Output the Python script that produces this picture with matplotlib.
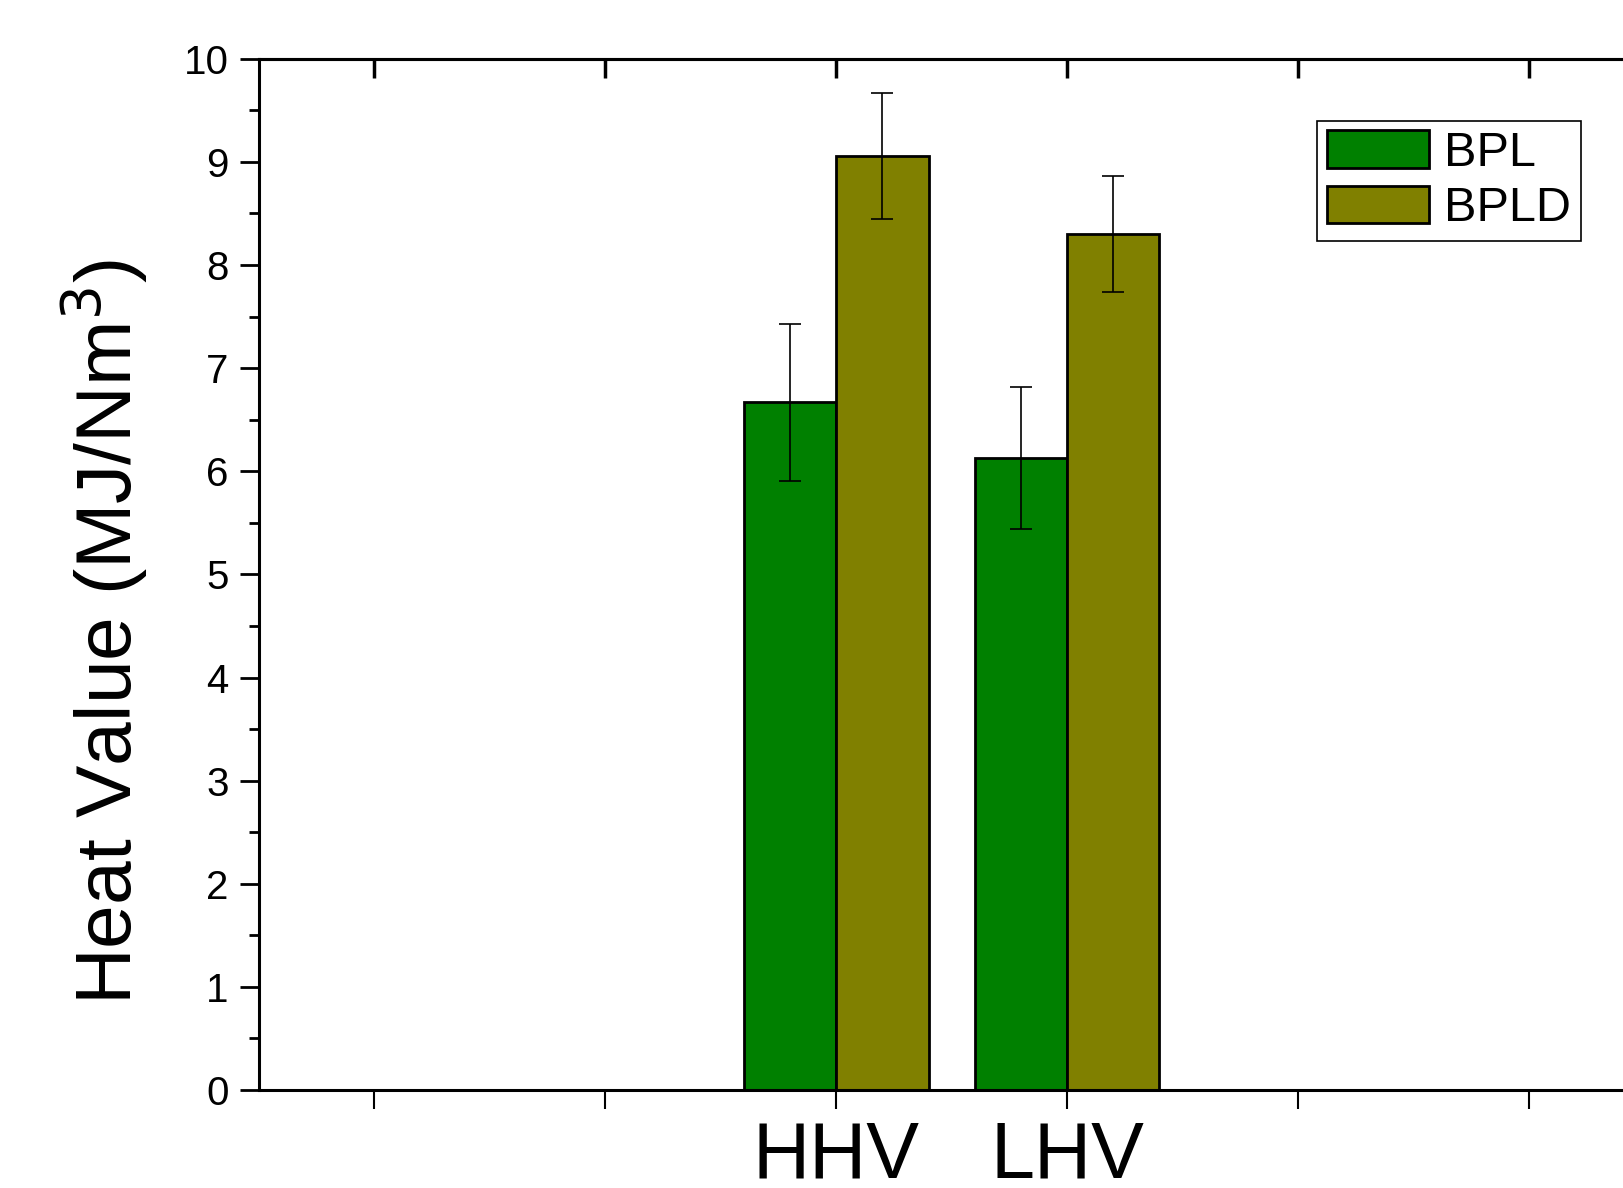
import matplotlib.pyplot as plt
import numpy as np

plt.rcParams['font.family'] = ['Liberation Sans', 'DejaVu Sans']

# data
categories = ['HHV', 'LHV']
cat_pos = [3, 4]
series = ['BPL', 'BPLD']
bpl = [6.67, 6.13]
bpl_err = [0.76, 0.69]
bpld = [9.06, 8.30]
bpld_err = [0.61, 0.56]
colors = ['#008000', '#808000']

fig = plt.figure(figsize=(16.24, 11.88), dpi=100)
ax = fig.add_axes([0.1595, 0.0825, 0.853, 0.868])

w = 0.4
x = np.array(cat_pos, dtype=float)
ax.bar(x - w/2, bpl, w, color=colors[0], edgecolor='black', linewidth=2, label=series[0])
ax.bar(x + w/2, bpld, w, color=colors[1], edgecolor='black', linewidth=2, label=series[1])
ax.errorbar(x - w/2, bpl, yerr=bpl_err, fmt='none', ecolor='black', elinewidth=1.2, capsize=8, capthick=1.2)
ax.errorbar(x + w/2, bpld, yerr=bpld_err, fmt='none', ecolor='black', elinewidth=1.2, capsize=8, capthick=1.2)

ax.set_xlim(0.5, 6.5)
ax.set_ylim(0, 10)
ax.set_yticks(range(0, 11))
ax.set_yticks(np.arange(0.5, 10, 1), minor=True)
ax.set_xticks(range(1, 7))
ax.set_xticklabels(['', ''] + categories + ['', ''], fontsize=57)
ax.tick_params(axis='x', which='major', direction='out', length=14, width=1.5, pad=7)
ax.tick_params(axis='y', which='major', direction='out', length=14, width=2, labelsize=29, pad=8)
ax.tick_params(axis='y', which='minor', direction='out', length=7, width=2)

# top axis: ticks pointing inward, no labels
top = ax.secondary_xaxis('top')
top.set_xticks(range(1, 7))
top.tick_params(direction='in', length=14, width=2.5, labeltop=False)
top.spines['top'].set_linewidth(2.2)

for s in ax.spines.values():
    s.set_linewidth(2.2)
ax.spines['right'].set_visible(False)

ax.set_ylabel('Heat Value (MJ/Nm$^3$)', fontsize=56.5)
ax.yaxis.set_label_coords(-0.079, 0.444)

leg = ax.legend(loc='upper right', bbox_to_anchor=(0.954, 0.94), fontsize=35, frameon=True, fancybox=False,
                framealpha=1, edgecolor='black', handlelength=2.1, handleheight=0.8, borderpad=0.2,
                labelspacing=0.2, handletextpad=0.3, borderaxespad=0)
leg.get_frame().set_linewidth(1.2)

plt.savefig('out.png', dpi=100)
